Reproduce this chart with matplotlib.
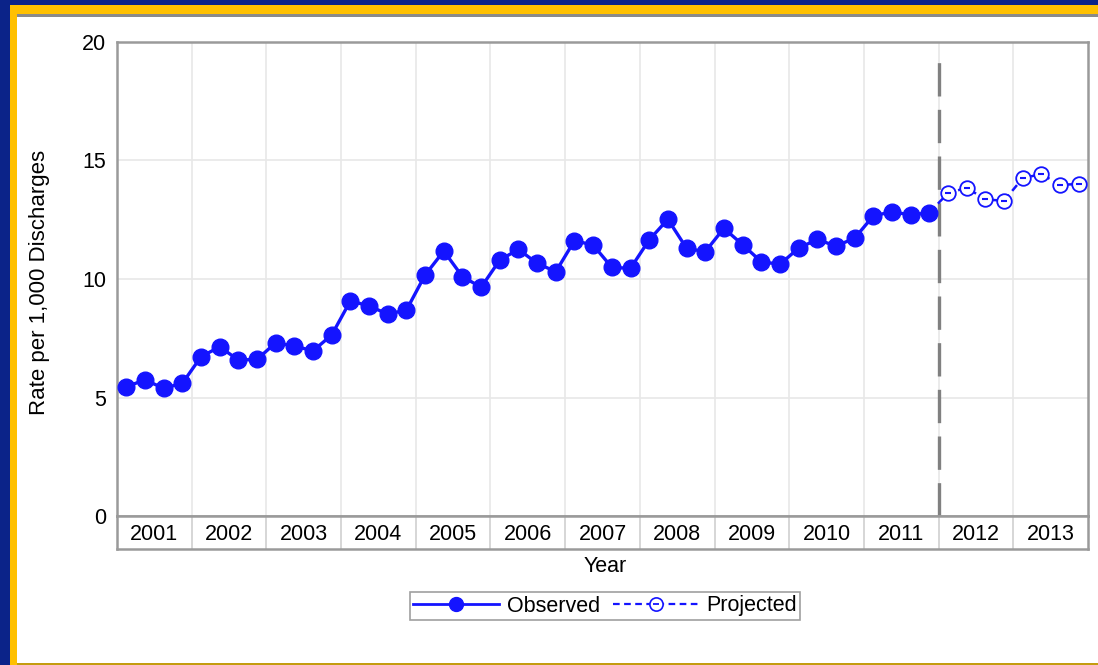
import numpy as np
import matplotlib
matplotlib.use("Agg")
import matplotlib.pyplot as plt
from matplotlib.lines import Line2D
from matplotlib.patches import Rectangle

plt.rcParams['font.family'] = ['Liberation Sans', 'DejaVu Sans']

years = [2001, 2002, 2003, 2004, 2005, 2006, 2007, 2008, 2009, 2010, 2011, 2012, 2013]
observed = [5.46, 5.74, 5.39, 5.60,
            6.72, 7.14, 6.58, 6.61,
            7.31, 7.17, 6.97, 7.64,
            9.08, 8.86, 8.52, 8.69,
            10.17, 11.18, 10.10, 9.65,
            10.80, 11.25, 10.66, 10.31,
            11.62, 11.43, 10.49, 10.45,
            11.65, 12.52, 11.30, 11.15,
            12.14, 11.45, 10.73, 10.62,
            11.30, 11.67, 11.39, 11.72,
            12.66, 12.84, 12.70, 12.80]
projected = [13.62, 13.85, 13.36, 13.30,
             14.25, 14.43, 13.97, 14.01]
y_ticks = [0, 5, 10, 15, 20]

W, H = 1098, 665
BLUE = '#1414ff'
GRAY = '#9a9a9a'
FS = 15.5

def fx(px):
    return px / W

def fy(py):
    return 1 - py / H

fig = plt.figure(figsize=(W / 100, H / 100), dpi=100, facecolor='#0b2389')

# frame: navy outside, yellow band, white panel
def frame_rect(x0, y0, x1, y1, color):
    fig.patches.append(Rectangle((fx(x0), fy(y1)), fx(x1 - x0), fy(y0) - fy(y1),
                                 transform=fig.transFigure, facecolor=color,
                                 edgecolor='none', zorder=-10))

frame_rect(10, 5, W, H, '#ffc000')
frame_rect(17, 14, W, H, '#8a8a8a')
frame_rect(17, 17, W, 663, 'white')
frame_rect(17, 663, W, H, '#c49c10')

x_left, x_right, y_top, y_bot, y_band = 117, 1088, 42, 516, 549
n_years = len(years)

ax = fig.add_axes([fx(x_left), fy(y_bot), fx(x_right - x_left), fy(y_top) - fy(y_bot)])
ax.set_xlim(0, n_years)
ax.set_ylim(0, 20)
ax.set_yticks(y_ticks)
ax.set_yticklabels([str(v) for v in y_ticks], fontsize=FS)
ax.set_xticks([])
ax.tick_params(axis='y', length=0, pad=8)
for s in ax.spines.values():
    s.set_color(GRAY)
    s.set_linewidth(1.8)
for v in y_ticks[1:-1]:
    ax.axhline(v, color='#e8e8e8', lw=1.2, zorder=0)
for i in range(1, n_years):
    ax.axvline(i, color='#e8e8e8', lw=1.2, zorder=0)

n_obs_years = len(observed) // 4
x_obs = np.array([i + (q + 0.5) / 4 for i in range(n_obs_years) for q in range(4)])
x_proj = np.array([n_obs_years + (k + 0.5) / 4 for k in range(len(projected))])

ax.plot(x_obs, observed, color=BLUE, lw=2.4, marker='o', ms=12, mec=BLUE, mfc=BLUE, zorder=3)
ax.plot(np.r_[x_obs[-1], x_proj], np.r_[observed[-1], projected], color=BLUE, lw=1.8,
        ls=(0, (3, 2)), zorder=3)
ax.plot(x_proj, projected, ls='none', marker='o', ms=10.5, mfc='white', mec=BLUE, mew=1.3, zorder=4)
ax.plot(x_proj, projected, ls='none', marker='_', ms=5, mec=BLUE, mew=1.5, zorder=5)

ax.axvline(n_obs_years, ymax=0.975, color='#808080', lw=2.4, ls=(0, (10, 4)), zorder=2)

# year label band below the plot
band = fig.add_axes([fx(x_left), fy(y_band), fx(x_right - x_left), fy(y_bot) - fy(y_band)])
band.set_xlim(0, n_years)
band.set_ylim(0, 1)
band.set_xticks([])
band.set_yticks([])
for s in band.spines.values():
    s.set_color(GRAY)
    s.set_linewidth(1.8)
for i in range(1, n_years):
    band.axvline(i, color='#d0d0d0', lw=1.2)
for i, yr in enumerate(years):
    band.text(i + 0.5, 0.45, str(yr), ha='center', va='center', fontsize=FS)

fig.text(fx(40), fy(282), 'Rate per 1,000 Discharges', rotation=90, ha='center', va='center',
         fontsize=16)
fig.text(fx(605), fy(567), 'Year', ha='center', va='center', fontsize=FS)

h_obs = Line2D([], [], color=BLUE, lw=2, marker='o', ms=10, mfc=BLUE, mec=BLUE)
h_proj_line = Line2D([], [], color=BLUE, lw=1.6, ls=(0, (3, 2)), marker='o', ms=9.5,
                     mfc='white', mec=BLUE, mew=1.2)
h_proj_dash = Line2D([], [], ls='none', marker='_', ms=4, mec=BLUE, mew=1.3)
leg = fig.legend([h_obs, (h_proj_line, h_proj_dash)], ['Observed', 'Projected'],
                 loc='center', bbox_to_anchor=(fx(605), fy(606)), ncol=2, fontsize=15.5,
                 frameon=True, fancybox=False, handlelength=4.0, columnspacing=0.6,
                 handletextpad=0.35, borderpad=0.15, borderaxespad=0)
leg.get_frame().set_edgecolor('#888888')
leg.get_frame().set_linewidth(1.2)

fig.savefig('out.png', dpi=100, facecolor=fig.get_facecolor())
